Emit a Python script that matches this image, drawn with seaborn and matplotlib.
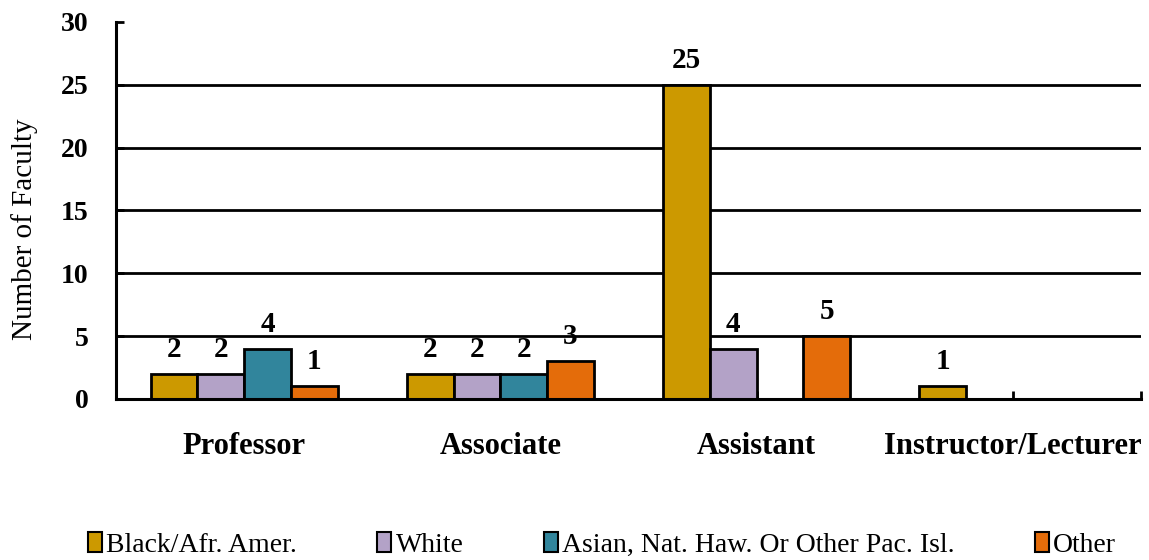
import numpy as np
import matplotlib.pyplot as plt
from matplotlib.patches import Patch
import pandas as pd
import seaborn as sns

ranks = ['Professor', 'Associate', 'Assistant', 'Instructor/Lecturer']
groups = ['Black/Afr. Amer.', 'White', 'Asian, Nat. Haw. Or Other Pac. Isl.', 'Other']
black = [2, 2, 25, 1]
white = [2, 2, 4, 0]
asian = [4, 2, 0, 0]
other = [1, 3, 5, 0]
colors = ['#CC9900', '#B3A2C7', '#31859C', '#E46C0A']

df = pd.DataFrame({
    'rank': ranks * 4,
    'group': np.repeat(groups, 4),
    'count': black + white + asian + other,
})

sns.set_style('white')
plt.rcParams['font.family'] = ['Liberation Serif', 'DejaVu Serif']
plt.rcParams['text.color'] = 'black'
plt.rcParams['axes.labelcolor'] = 'black'
plt.rcParams['xtick.color'] = 'black'
plt.rcParams['ytick.color'] = 'black'

fig, ax = plt.subplots(figsize=(11.49, 5.6), dpi=100)
fig.subplots_adjust(left=0.101, right=0.993, bottom=0.2875, top=0.961)

sns.barplot(data=df, x='rank', y='count', hue='group', order=ranks, hue_order=groups,
            palette=colors, saturation=1, width=0.73, errorbar=None,
            edgecolor='black', linewidth=2, ax=ax)

# empty categories: no bar, no label
for p in ax.patches:
    if p.get_height() == 0:
        p.set_visible(False)
for c in ax.containers:
    labels = [f'{v:.0f}' if v > 0 else '' for v in c.datavalues]
    ax.bar_label(c, labels=labels, padding=8, fontsize=21, fontweight='bold')

ax.set_ylim(0, 30)
ax.set_yticks(range(0, 31, 5))
ax.set_axisbelow(True)
ax.yaxis.grid(True, color='black', linewidth=2)
ax.get_ygridlines()[-1].set_visible(False)

sns.despine(ax=ax)
for s in ['left', 'bottom']:
    ax.spines[s].set_linewidth(2.2)
    ax.spines[s].set_color('black')

ax.set_xticks([3.5], minor=True)
ax.tick_params(axis='y', direction='in', length=6, width=2,
               labelsize=20, pad=20, left=True)
ax.tick_params(axis='x', which='both', direction='in', length=6, width=2,
               labelsize=22, pad=24, bottom=True)
for t in ax.get_yticklabels() + ax.get_xticklabels():
    t.set_fontweight('bold')

ax.set_xlabel('')
ax.set_ylabel('Number of Faculty', fontsize=21)
ax.yaxis.set_label_coords(-0.076, 0.45)

ax.get_legend().remove()
handles = [Patch(facecolor=c, edgecolor='black', linewidth=1.5) for c in colors]
fig.legend(handles, groups, loc='center', bbox_to_anchor=(0.524, 0.027), ncol=4,
           frameon=False, fontsize=20, handlelength=0.5, handleheight=0.7,
           handletextpad=0.15, columnspacing=2.9)

plt.savefig('out.png', dpi=100)
